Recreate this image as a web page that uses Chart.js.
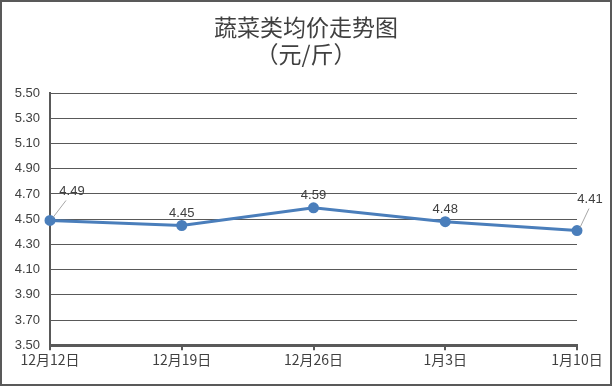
<!DOCTYPE html>
<html><head><meta charset="utf-8">
<script src="https://cdn.jsdelivr.net/npm/chart.js@4"></script>
<style>
html,body{margin:0;padding:0;background:#fff;}
#wrap{position:absolute;left:0;top:0;width:608px;height:382px;border:2px solid #595959;background:#fff;}
canvas{display:block;}
</style></head>
<body><div id="wrap"><canvas id="c" width="608" height="382"></canvas></div>
<script>
const categories = ["12月12日","12月19日","12月26日","1月3日","1月10日"];
const prices = [4.49, 4.45, 4.59, 4.48, 4.41];
const yTicks = [3.50,3.70,3.90,4.10,4.30,4.50,4.70,4.90,5.10,5.30,5.50];
const labelOffsets = [[22,-29,true],[0,-12,false],[0,-12,false],[0,-12,false],[13,-31,true]];

const labelPlugin = {
  id:'labels',
  afterDatasetsDraw(chart){
    const ctx = chart.ctx;
    const meta = chart.getDatasetMeta(0);
    ctx.save();
    ctx.font = '13px "Liberation Sans", Arial, sans-serif';
    ctx.fillStyle = '#404040';
    ctx.textAlign = 'center';
    ctx.textBaseline = 'middle';
    meta.data.forEach((pt,i)=>{
      const [dx,dy,leader] = labelOffsets[i];
      const x = pt.x + dx, y = pt.y + dy;
      if (leader){
        ctx.strokeStyle = '#a6a6a6';
        ctx.lineWidth = 1;
        ctx.beginPath();
        ctx.moveTo(pt.x + 3, pt.y - 3);
        ctx.lineTo(x + (i===0?-6:-1), y + 9);
        ctx.stroke();
      }
      ctx.fillText(prices[i].toFixed(2), x, y);
    });
    ctx.restore();
  }
};

new Chart(document.getElementById('c'), {
  type:'line',
  data:{labels:categories, datasets:[{
    data:prices, borderColor:'#4a7ebb', backgroundColor:'#4a7ebb',
    borderWidth:3, pointRadius:4, pointBackgroundColor:'#4a7ebb', pointBorderColor:'#4a7ebb',
    tension:0, clip:false
  }]},
  options:{
    responsive:false, animation:false, devicePixelRatio:1,
    layout:{padding:{left:0,right:0,top:0,bottom:15}},
    plugins:{
      legend:{display:false}, tooltip:{enabled:false},
      title:{display:true, text:['蔬菜类均价走势图','（元/斤）'], color:'#404040',
        font:{family:'"Noto Sans CJK SC", sans-serif', size:23, weight:'normal', lineHeight:1.2},
        padding:{top:11,bottom:25}}
    },
    scales:{
      x:{offset:false,
        grid:{display:true, drawOnChartArea:false, drawTicks:true, tickLength:5, color:'#595959', lineWidth:2},
        border:{display:true,color:'#595959',width:3},
        ticks:{color:'#404040', font:{family:'"Noto Sans CJK SC", sans-serif', size:14}, maxRotation:0, autoSkip:false, padding:1}
      },
      y:{min:3.5, max:5.5, 
        afterBuildTicks(s){ s.ticks = yTicks.map(v=>({value:v})); },
        afterFit(s){ s.width = 48; },
        grid:{color:'#595959', lineWidth:1, drawTicks:false},
        border:{display:true,color:'#595959',width:2},
        ticks:{color:'#404040', font:{family:'"Liberation Sans", Arial, sans-serif', size:13}, padding:10,
          callback:(v)=>Number(v).toFixed(2)}
      },
      y2:{position:'right', min:0, max:1,
        afterFit(s){ s.width = 33; },
        grid:{display:false}, border:{display:false},
        ticks:{display:false}
      }
    }
  },
  plugins:[labelPlugin]
});
</script></body></html>
